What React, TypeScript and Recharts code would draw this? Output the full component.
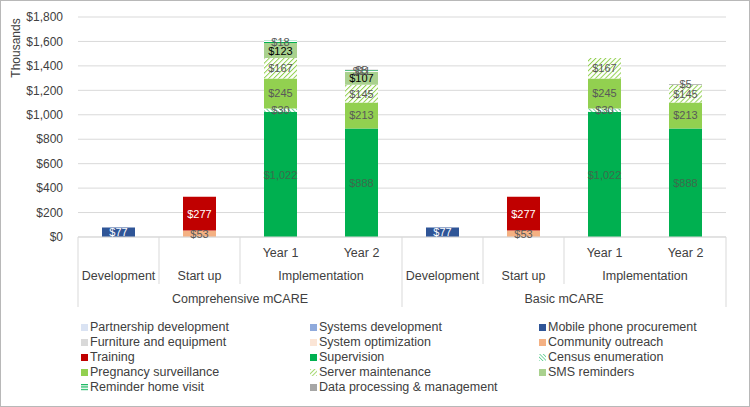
import React from 'react';
import { BarChart, Bar, XAxis, YAxis, CartesianGrid, LabelList, Label } from 'recharts';

const groups = ['Comprehensive mCARE', 'Comprehensive mCARE', 'Comprehensive mCARE', 'Comprehensive mCARE', 'Basic mCARE', 'Basic mCARE', 'Basic mCARE', 'Basic mCARE'];
const phases = ['Development', 'Start up', 'Implementation', 'Implementation', 'Development', 'Start up', 'Implementation', 'Implementation'];
const years = ['', '', 'Year 1', 'Year 2', '', '', 'Year 1', 'Year 2'];
const ids = groups.map((_, i) => `c${i}`);

// values in thousands of dollars
const partnership = [null, null, null, null, null, null, null, null];
const systemsDev = [null, null, null, null, null, null, null, null];
const mobilePhone = [77, null, null, null, 77, null, null, null];
const furniture = [null, null, null, null, null, null, null, null];
const sysOptimization = [null, null, null, null, null, null, null, null];
const outreach = [null, 53, null, null, null, 53, null, null];
const training = [null, 277, null, null, null, 277, null, null];
const supervision = [null, null, 1022, 888, null, null, 1022, 888];
const census = [null, null, 30, null, null, null, 30, null];
const pregnancy = [null, null, 245, 213, null, null, 245, 213];
const server = [null, null, 167, 145, null, null, 167, 145];
const sms = [null, null, 123, 107, null, null, null, null];
const reminder = [null, null, 18, 11, null, null, null, null];
const dataProc = [null, null, null, 5, null, null, null, 5];

const yTicks = [0, 200, 400, 600, 800, 1000, 1200, 1400, 1600, 1800];

const series = [
  { key: 'partnership', name: 'Partnership development', values: partnership, fill: '#dae3f3', label: '#404040' },
  { key: 'systemsDev', name: 'Systems development', values: systemsDev, fill: '#8faadc', label: '#404040' },
  { key: 'mobilePhone', name: 'Mobile phone procurement', values: mobilePhone, fill: '#2f5597', label: '#ffffff' },
  { key: 'furniture', name: 'Furniture and equipment', values: furniture, fill: '#d9d9d9', label: '#404040' },
  { key: 'sysOptimization', name: 'System optimization', values: sysOptimization, fill: '#fbe5d6', label: '#404040' },
  { key: 'outreach', name: 'Community outreach', values: outreach, fill: '#f4b183', label: '#595959' },
  { key: 'training', name: 'Training', values: training, fill: '#c00000', label: '#ffffff' },
  { key: 'supervision', name: 'Supervision', values: supervision, fill: '#00b050', label: '#3d6b4c' },
  { key: 'census', name: 'Census enumeration', values: census, fill: 'url(#censusPat)', label: '#595959' },
  { key: 'pregnancy', name: 'Pregnancy surveillance', values: pregnancy, fill: '#92d050', label: '#595959' },
  { key: 'server', name: 'Server maintenance', values: server, fill: 'url(#serverPat)', label: '#595959' },
  { key: 'sms', name: 'SMS reminders', values: sms, fill: '#a9d18e', label: '#000000' },
  { key: 'reminder', name: 'Reminder home visit', values: reminder, fill: 'url(#reminderPat)', label: '#595959' },
  { key: 'dataProc', name: 'Data processing & management', values: dataProc, fill: '#a6a6a6', label: '#595959' },
];

const data = ids.map((id, i) => {
  const row: Record<string, any> = { id };
  series.forEach((s) => { row[s.key] = s.values[i]; });
  return row;
});

const FONT = '"Liberation Sans", Arial, sans-serif';
const TEXT = '#404040';
const LINE = '#d9d9d9';
const BW = (726 - 78) / 8;

const money = (v: number) => `$${v.toLocaleString('en-US')}`;

const runLength = (i: number, same: (a: number, b: number) => boolean) => {
  let n = 1;
  while (i + n < ids.length && same(i, i + n)) n++;
  return n;
};

const CategoryTick = (props: any) => {
  const { x, y, payload } = props;
  const i = ids.indexOf(payload.value);
  if (i < 0) return null;
  const out: React.ReactNode[] = [];
  const left = x - BW / 2;
  const right = x + BW / 2;
  if (i === 0 || groups[i] !== groups[i - 1]) {
    out.push(<line key="gl" x1={left} x2={left} y1={y} y2={y + 70} stroke={LINE} />);
  } else if (phases[i] !== phases[i - 1]) {
    out.push(<line key="pl" x1={left} x2={left} y1={y} y2={y + 47} stroke={LINE} />);
  }
  if (i === ids.length - 1) {
    out.push(<line key="rl" x1={right} x2={right} y1={y} y2={y + 70} stroke={LINE} />);
  }
  if (years[i]) {
    out.push(<text key="yr" x={x} y={y + 19.5} textAnchor="middle" fontSize={12.5} fill={TEXT} fontFamily={FONT}>{years[i]}</text>);
  }
  if (i === 0 || phases[i] !== phases[i - 1] || groups[i] !== groups[i - 1]) {
    const n = runLength(i, (a, b) => phases[a] === phases[b] && groups[a] === groups[b]);
    out.push(<text key="ph" x={x + (n - 1) * BW / 2} y={y + 42.5} textAnchor="middle" fontSize={12.5} fill={TEXT} fontFamily={FONT}>{phases[i]}</text>);
  }
  if (i === 0 || groups[i] !== groups[i - 1]) {
    const n = runLength(i, (a, b) => groups[a] === groups[b]);
    out.push(<text key="gr" x={x + (n - 1) * BW / 2} y={y + 65.5} textAnchor="middle" fontSize={12.5} fill={TEXT} fontFamily={FONT}>{groups[i]}</text>);
  }
  return <g>{out}</g>;
};

const makeLabel = (color: string) => (props: any) => {
  const { x, y, width, height, value } = props;
  if (value == null || value === 0) return null;
  return (
    <text x={x + width / 2} y={y + height / 2} dy="0.36em" textAnchor="middle" fontSize={11} fill={color} fontFamily={FONT}>
      {money(value)}
    </text>
  );
};

const Icon = ({ s }: { s: typeof series[number] }) => (
  <svg width={7} height={7} style={{ marginRight: 2, flex: 'none' }}>
    <defs>
      <pattern id={`lg-${s.key}-c`} patternUnits="userSpaceOnUse" width={2.5} height={2.5} patternTransform="rotate(-45)">
        <rect width={2.5} height={2.5} fill="#fff" />
        <line x1={0} y1={0} x2={0} y2={2.5} stroke="#00b050" strokeWidth={1} />
      </pattern>
      <pattern id={`lg-${s.key}-s`} patternUnits="userSpaceOnUse" width={3} height={3} patternTransform="rotate(45)">
        <rect width={3} height={3} fill="#fff" />
        <line x1={0} y1={0} x2={0} y2={3} stroke="#92d050" strokeWidth={1.6} />
      </pattern>
      <pattern id={`lg-${s.key}-r`} patternUnits="userSpaceOnUse" width={3} height={2.4}>
        <rect width={3} height={2.4} fill="#fff" />
        <line x1={0} y1={0.6} x2={3} y2={0.6} stroke="#00b050" strokeWidth={1.1} />
      </pattern>
    </defs>
    <rect
      width={7}
      height={7}
      fill={
        s.key === 'census' ? `url(#lg-${s.key}-c)` :
        s.key === 'server' ? `url(#lg-${s.key}-s)` :
        s.key === 'reminder' ? `url(#lg-${s.key}-r)` : s.fill
      }
    />
  </svg>
);

export default function App() {
  return (
    <div
      style={{
        position: 'absolute', left: 0, top: 0, width: 750, height: 407,
        boxSizing: 'border-box', border: '1px solid #b8b8b8', background: '#fff', fontFamily: FONT,
      }}
    >
      <div style={{ position: 'absolute', left: -1, top: -1 }}>
        <BarChart width={750} height={320} data={data} barSize={33} margin={{ top: 17, right: 24, bottom: 8, left: 8 }}>
          <defs>
            <pattern id="censusPat" patternUnits="userSpaceOnUse" width={3} height={3} patternTransform="rotate(-45)">
              <rect width={3} height={3} fill="#fff" />
              <line x1={0} y1={0} x2={0} y2={3} stroke="#00b050" strokeWidth={1.2} />
            </pattern>
            <pattern id="serverPat" patternUnits="userSpaceOnUse" width={3.5} height={3.5} patternTransform="rotate(45)">
              <rect width={3.5} height={3.5} fill="#fff" />
              <line x1={0} y1={0} x2={0} y2={3.5} stroke="#92d050" strokeWidth={2} />
            </pattern>
            <pattern id="reminderPat" patternUnits="userSpaceOnUse" width={4} height={2}>
              <rect width={4} height={2} fill="#fff" />
              <line x1={0} y1={0.5} x2={4} y2={0.5} stroke="#00b050" strokeWidth={1} />
            </pattern>
          </defs>
          <CartesianGrid vertical={false} stroke={LINE} />
          <XAxis
            dataKey="id"
            height={75}
            interval={0}
            tickSize={0}
            tickMargin={0}
            tickLine={false}
            axisLine={{ stroke: LINE }}
            tick={<CategoryTick />}
          />
          <YAxis
            width={70}
            domain={[0, 1800]}
            ticks={yTicks}
            tickFormatter={money}
            tickLine={false}
            axisLine={false}
            tickMargin={9}
            tick={{ fontSize: 12, fill: TEXT, fontFamily: FONT }}
          >
            <Label
              content={(p: any) => {
                const vb = p.viewBox || { x: 8, y: 17 };
                const cx = vb.x + 8;
                const cy = vb.y + 31;
                return (
                  <text x={cx} y={cy} transform={`rotate(-90 ${cx} ${cy})`} textAnchor="middle" dy="0.35em" fontSize={12} fill={TEXT} fontFamily={FONT}>
                    Thousands
                  </text>
                );
              }}
            />
          </YAxis>
          {series.map((s) => (
            <Bar key={s.key} dataKey={s.key} name={s.name} stackId="a" fill={s.fill} isAnimationActive={false}>
              <LabelList dataKey={s.key} content={makeLabel(s.label)} />
            </Bar>
          ))}
        </BarChart>
      </div>
      <div
        style={{
          position: 'absolute', left: 80, top: 319, display: 'grid',
          gridTemplateColumns: '229px 229px 229px', gridAutoRows: '15px',
          fontSize: 12.5, color: TEXT, lineHeight: '15px',
        }}
      >
        {series.map((s) => (
          <div key={s.key} style={{ display: 'flex', alignItems: 'center', whiteSpace: 'nowrap' }}>
            <Icon s={s} />
            <span>{s.name}</span>
          </div>
        ))}
      </div>
    </div>
  );
}
